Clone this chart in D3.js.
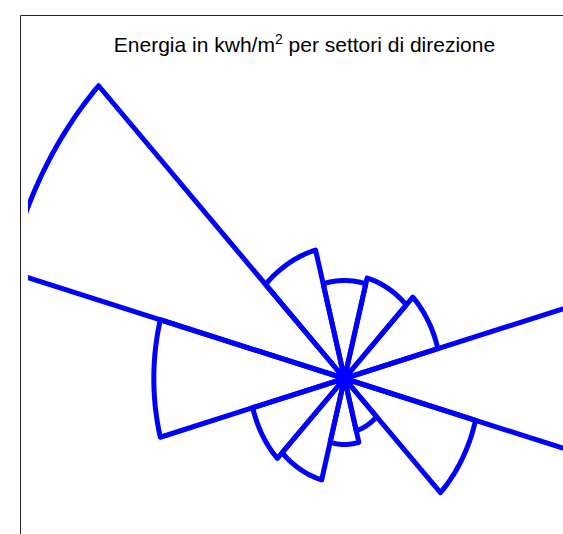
<!DOCTYPE html>
<html lang="it">
<head>
<meta charset="UTF-8">
<title>Energia per settori di direzione</title>
<script src="https://d3js.org/d3.v7.min.js"></script>
<style>
  body { margin: 0; background: #fff; }
  svg { display: block; }
</style>
</head>
<body>
<svg width="563" height="534"></svg>
<script>
  // settori di 30 gradi, centro del settore (0 = Nord, senso orario)
  const sectorCenters = [0, 30, 60, 90, 120, 150, 180, 210, 240, 270, 300, 330];
  const sectorNames = ["N", "NNE", "ENE", "E", "ESE", "SSE", "S", "SSW", "WSW", "W", "WNW", "NNW"];
  // energia per settore (kwh/m2)
  const energy = [98, 104, 115, 380, 161.5, 54, 66, 105, 113, 227, 414, 133];
  const sectorWidth = 30;

  const W = 563, H = 534;
  const cx = 344.5, cy = 378.5;

  const svg = d3.select("svg");

  // assi non uguali: x compresso rispetto a y
  const x = d3.scaleLinear().domain([0, 100]).range([cx, cx + 84]);
  const y = d3.scaleLinear().domain([0, 100]).range([cy, cy - 100]);

  svg.append("defs").append("clipPath")
    .attr("id", "plotclip")
    .append("rect")
    .attr("x", 28).attr("y", 15)
    .attr("width", W - 28).attr("height", H - 15);

  // cornice
  svg.append("path")
    .attr("d", `M20.5,${H}V15.5H${W}`)
    .attr("fill", "none")
    .attr("stroke", "#262626")
    .attr("stroke-width", 1);

  const toXY = (r, deg) => {
    const a = deg * Math.PI / 180;
    return [x(r * Math.sin(a)), y(r * Math.cos(a))];
  };

  const line = d3.line();

  const sectors = sectorCenters.map((c, i) => {
    const a0 = c - sectorWidth / 2, a1 = c + sectorWidth / 2;
    const pts = [[cx, cy]];
    const steps = 30;
    for (let s = 0; s <= steps; s++) {
      pts.push(toXY(energy[i], a0 + (a1 - a0) * s / steps));
    }
    pts.push([cx, cy]);
    return { name: sectorNames[i], pts };
  });

  svg.append("g")
    .attr("clip-path", "url(#plotclip)")
    .selectAll("path")
    .data(sectors)
    .enter()
    .append("path")
    .attr("d", d => line(d.pts))
    .attr("fill", "none")
    .attr("stroke", "#0000ff")
    .attr("stroke-width", 5)
    .attr("stroke-linejoin", "round")
    .attr("stroke-linecap", "round");

  const title = svg.append("text")
    .attr("x", 304.5)
    .attr("y", 52)
    .attr("text-anchor", "middle")
    .style("font-family", "'Liberation Sans', Arial, sans-serif")
    .style("font-size", "21px")
    .style("fill", "#000");
  title.append("tspan").text("Energia in kwh/m");
  title.append("tspan").text("2").attr("dy", -8).style("font-size", "14px");
  title.append("tspan").text(" per settori di direzione").attr("dy", 8);
</script>
</body>
</html>
